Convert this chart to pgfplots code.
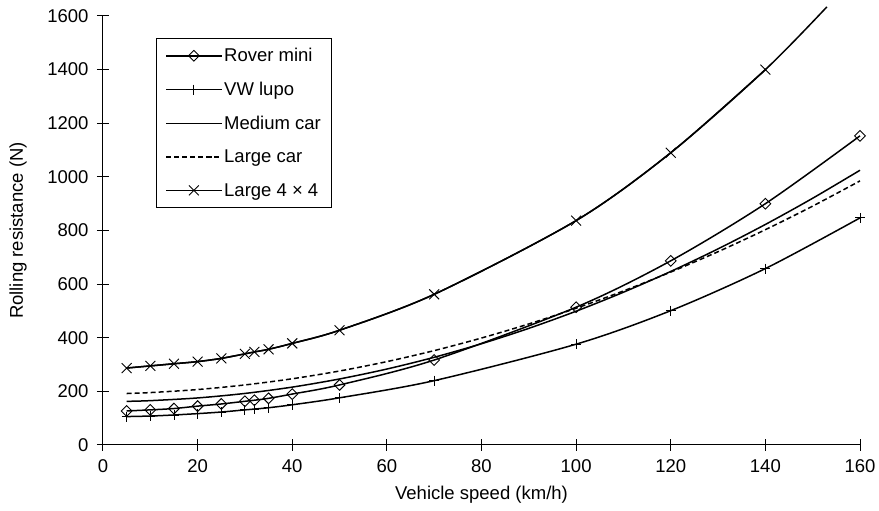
\documentclass[border=0pt]{standalone}
\usepackage{pgfplots}
\pgfplotsset{compat=1.18}
\usepackage{fontspec}
\setmainfont{Liberation Sans}
\begin{document}
\begin{tikzpicture}[font=\fontsize{18.5}{22}\selectfont]
\useasboundingbox (-103pt,-66pt) rectangle (776pt,445pt);
\begin{axis}[
  at={(0,0)}, anchor=south west,
  scale only axis, width=757pt, height=429pt,
  xmin=0, xmax=160, ymin=0, ymax=1600,
  xtick={0,20,...,160}, ytick={0,200,...,1600},
  axis lines=left, axis line style={-, line width=1pt},
  tick align=center, major tick length=12pt,
  tick style={line width=1pt, black},
  /pgf/number format/assume math mode=true,
  /pgf/number format/set thousands separator={},
  xticklabel style={yshift=-5pt},
  yticklabel style={xshift=-5pt},
  clip=false,
  xlabel={Vehicle speed (km/h)},
  ylabel={Rolling resistance (N)},
  x label style={at={(axis description cs:0.5,-0.115)}, anchor=center},
  y label style={at={(axis description cs:-0.112,0.5)}, anchor=center, rotate=0},
  legend style={at={(rel axis cs:0.07,0.949)}, anchor=north west, draw=black, line width=1pt,
    inner xsep=9pt, inner ysep=8pt, row sep=15pt, font=\fontsize{18.5}{22}\selectfont},
  legend cell align=left,
  legend image code/.code={\draw[mark repeat=2,mark phase=2] plot coordinates {(0cm,0cm) (0.97cm,0cm) (1.94cm,0cm)};},
]
\addplot[black, line width=1.5pt, smooth, mark=square, mark size=3.8pt, mark options={rotate=45, solid, fill=white, line width=0.9pt}] coordinates {
(5,127) (10,131) (15,136) (20,145) (25,153) (30,163) (32,167) (35,174) (40,190) (50,224) (70,317) (100,514) (120,687) (140,900) (160,1153)};
\addlegendentry{Rover mini}
\addplot[black, line width=1.5pt, smooth, mark=+, mark size=5pt, mark options={solid, line width=0.9pt}] coordinates {
(5,106) (10,108) (15,112) (20,117) (25,123) (30,131) (32,134) (35,139) (40,150) (50,176) (70,240) (100,376) (120,501) (140,658) (160,847)};
\addlegendentry{VW lupo}
\addplot[black, line width=1.5pt, smooth, no marks] coordinates {
(5,162.8) (10,165.4) (20,175.5) (30,192.3) (40,215.9) (50,246.3) (60,283.3) (70,327.1) (80,377.7) (90,435) (100,499) (110,569.8) (120,647.3) (130,731.5) (140,822.5) (150,920.3) (160,1024.7)};
\addlegendentry{Medium car}
\addplot[black, line width=1.5pt, smooth, no marks, dash pattern=on 5pt off 3pt] coordinates {
(5,192) (10,195.5) (20,206.8) (30,224) (40,247) (50,276) (60,311) (70,352) (80,399) (90,451.5) (100,510) (110,574.5) (120,645) (130,721) (140,803) (150,891) (160,985)};
\addlegendentry{Large car}
\addplot[black, line width=1.5pt, smooth, no marks, forget plot] coordinates {
(5,287) (10,295) (15,303) (20,311) (25,323) (30,340) (32,347) (35,357) (40,379) (50,428) (70,562) (100,837) (120,1090) (140,1400) (153,1634)};
\addplot[black, line width=1.5pt, smooth, mark=x, mark size=7pt, mark options={solid, line width=0.9pt}] coordinates {
(5,287) (10,295) (15,303) (20,311) (25,323) (30,340) (32,347) (35,357) (40,379) (50,428) (70,562) (100,837) (120,1090) (140,1400)};
\addlegendentry{Large 4 × 4}
\end{axis}
\end{tikzpicture}
\end{document}
